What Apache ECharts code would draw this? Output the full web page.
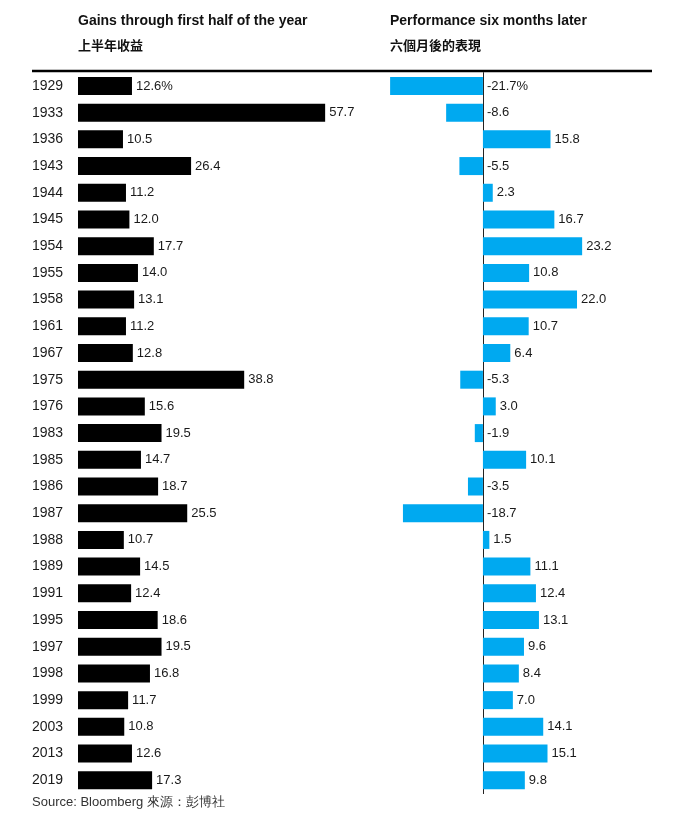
<!DOCTYPE html>
<html><head><meta charset="utf-8">
<script src="https://cdn.jsdelivr.net/npm/echarts@6/dist/echarts.min.js"></script>
<style>html,body{margin:0;padding:0;background:#fff}#c{width:682px;height:828px}</style>
</head><body><div id="c"></div>
<script>
const years = ['1929','1933','1936','1943','1944','1945','1954','1955','1958','1961','1967','1975','1976','1983','1985','1986','1987','1988','1989','1991','1995','1997','1998','1999','2003','2013','2019'];
const firstHalf = [12.6,57.7,10.5,26.4,11.2,12.0,17.7,14.0,13.1,11.2,12.8,38.8,15.6,19.5,14.7,18.7,25.5,10.7,14.5,12.4,18.6,19.5,16.8,11.7,10.8,12.6,17.3];
const sixLater = [-21.7,-8.6,15.8,-5.5,2.3,16.7,23.2,10.8,22.0,10.7,6.4,-5.3,3.0,-1.9,10.1,-3.5,-18.7,1.5,11.1,12.4,13.1,9.6,8.4,7.0,14.1,15.1,9.8];

const FONT = '"Liberation Sans", Arial, sans-serif';
const CJK = '"Noto Sans CJK TC", "Noto Sans CJK SC", sans-serif';
const fmt = p => p.value.toFixed(1) + (p.dataIndex === 0 ? '%' : '');
const labelStyle = {show: true, position: 'right', distance: 4, color: '#1a1a1a', fontSize: 13, fontFamily: FONT, formatter: fmt};

const chart = echarts.init(document.getElementById('c'), null, {renderer: 'canvas'});
const gridTop = 72.6, gridBottom = 828 - 793.6;
chart.setOption({
  animation: false,
  textStyle: {fontFamily: FONT},
  grid: [
    {left: 78, width: 257, top: gridTop, bottom: gridBottom},
    {left: 376, width: 278, top: gridTop, bottom: gridBottom}
  ],
  xAxis: [
    {gridIndex: 0, type: 'value', min: 0, max: 60, show: false},
    {gridIndex: 1, type: 'value', min: -25, max: 40, show: false}
  ],
  yAxis: [
    {gridIndex: 0, type: 'category', data: years, inverse: true,
     axisLine: {show: false}, axisTick: {show: false},
     axisLabel: {align: 'left', margin: 46, fontSize: 14, color: '#1a1a1a', fontFamily: FONT}},
    {gridIndex: 1, type: 'category', data: years, inverse: true,
     axisLine: {show: true, onZero: true, lineStyle: {color: '#222', width: 1}},
     axisTick: {show: false}, axisLabel: {show: false}}
  ],
  series: [
    {type: 'bar', xAxisIndex: 0, yAxisIndex: 0, data: firstHalf, barWidth: 18,
     itemStyle: {color: '#000'}, label: labelStyle},
    {type: 'bar', xAxisIndex: 1, yAxisIndex: 1, data: sixLater, barWidth: 18,
     itemStyle: {color: '#00a9f0'}, label: labelStyle}
  ],
  graphic: [
    {type: 'text', left: 78, top: 14, style: {text: 'Gains through first half of the year', font: 'bold 14px ' + FONT, fill: '#111'}},
    {type: 'text', left: 78, top: 39, style: {text: '上半年收益', font: 'bold 13px ' + CJK, fill: '#111'}},
    {type: 'text', left: 390, top: 14, style: {text: 'Performance six months later', font: 'bold 14px ' + FONT, fill: '#111'}},
    {type: 'text', left: 390, top: 39, style: {text: '六個月後的表現', font: 'bold 13px ' + CJK, fill: '#111'}},
    {type: 'line', shape: {x1: 32, y1: 71, x2: 652, y2: 71}, style: {stroke: '#000', lineWidth: 2.5}},
    {type: 'text', left: 32, top: 796, style: {text: 'Source: Bloomberg 來源：彭博社', font: '13px ' + FONT, fill: '#333'}}
  ]
});
</script>
</body></html>
